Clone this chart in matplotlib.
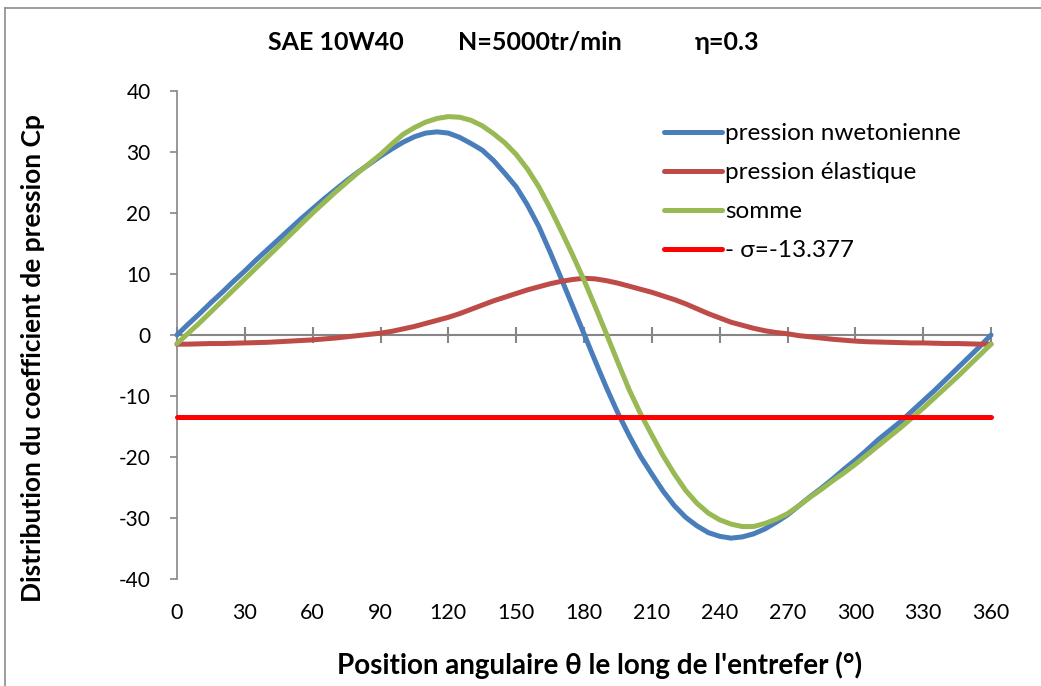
import matplotlib
matplotlib.use("Agg")
import matplotlib.pyplot as plt
from matplotlib.lines import Line2D

plt.rcParams['font.family'] = ['Lato', 'DejaVu Sans']

# ---- data (every 5 degrees) ----
theta = list(range(0, 361, 5))
p_newton = [0.0, 1.8, 3.5, 5.3, 7.0, 8.8, 10.5, 12.3, 14.0, 15.7, 17.4, 19.1, 20.7, 22.3, 23.8,
            25.3, 26.7, 28.0, 29.3, 30.5, 31.6, 32.5, 33.1, 33.3, 33.1, 32.4, 31.4, 30.3, 28.6,
            26.5, 24.3, 21.3, 17.8, 13.6, 9.2, 4.7, 0.2, -4.3, -8.7, -12.8, -16.5, -19.9, -22.8,
            -25.6, -28.0, -29.9, -31.3, -32.4, -33.0, -33.3, -33.1, -32.6, -31.8, -30.7, -29.5,
            -28.0, -26.5, -25.1, -23.6, -22.0, -20.5, -18.9, -17.2, -15.7, -14.2, -12.5, -10.8,
            -9.1, -7.3, -5.5, -3.7, -1.9, 0.0]
p_elast = [-1.5, -1.5, -1.45, -1.4, -1.4, -1.35, -1.3, -1.25, -1.2, -1.1, -1.0, -0.9, -0.8, -0.65,
           -0.5, -0.3, -0.1, 0.1, 0.3, 0.6, 1.0, 1.4, 1.9, 2.4, 2.9, 3.5, 4.2, 4.9, 5.6, 6.2, 6.8,
           7.4, 7.9, 8.4, 8.8, 9.1, 9.3, 9.2, 8.9, 8.5, 8.0, 7.5, 7.0, 6.4, 5.8, 5.1, 4.3, 3.5,
           2.8, 2.1, 1.6, 1.1, 0.7, 0.4, 0.2, -0.1, -0.3, -0.5, -0.7, -0.85, -1.0, -1.1, -1.15,
           -1.2, -1.25, -1.3, -1.3, -1.35, -1.4, -1.4, -1.45, -1.5, -1.5]
p_somme = [-1.4, 0.3, 2.0, 3.8, 5.6, 7.4, 9.2, 11.0, 12.8, 14.6, 16.4, 18.2, 20.0, 21.7, 23.4,
           25.0, 26.6, 28.1, 29.6, 31.3, 32.9, 34.0, 34.9, 35.5, 35.8, 35.7, 35.2, 34.3, 33.0,
           31.5, 29.6, 27.2, 24.3, 20.8, 17.0, 13.1, 9.0, 4.6, 0.1, -4.5, -9.0, -12.9, -16.4,
           -19.8, -22.8, -25.5, -27.6, -29.2, -30.3, -31.0, -31.4, -31.4, -30.9, -30.2, -29.3,
           -28.0, -26.6, -25.3, -23.9, -22.6, -21.2, -19.7, -18.2, -16.7, -15.2, -13.6, -12.0,
           -10.3, -8.6, -6.9, -5.1, -3.3, -1.5]
sigma = -13.377
sigma_x = [0, 360]

x_ticks = list(range(0, 361, 30))
y_ticks = list(range(-40, 41, 10))

labels = ["pression nwetonienne", "pression élastique", "somme", "- σ=-13.377"]
colors = ["#4A7EBB", "#BE4B48", "#98B954", "#FF0000"]

W, H = 1041, 686
fig = plt.figure(figsize=(W / 100, H / 100), dpi=100)
ax = fig.add_axes([177 / W, 1 - 579 / H, (991 - 177) / W, (579 - 91) / H])

lw = 3.6
kw = dict(lw=lw, solid_capstyle='round', solid_joinstyle='round', clip_on=False, zorder=3)
ax.plot(theta, p_newton, color=colors[0], label=labels[0], **kw)
ax.plot(theta, p_elast, color=colors[1], label=labels[1], **kw)
ax.plot(theta, p_somme, color=colors[2], label=labels[2], **kw)
ax.plot(sigma_x, [sigma, sigma], color=colors[3], label=labels[3], **kw)

ax.set_xlim(0, 360)
ax.set_ylim(-40, 40)

gray = "#868686"
for s in ['top', 'right', 'bottom']:
    ax.spines[s].set_visible(False)
ax.spines['left'].set_color(gray)
ax.spines['left'].set_linewidth(1.2)

ax.set_yticks(y_ticks)
ax.set_yticklabels([str(v) for v in y_ticks])
ax.tick_params(axis='y', direction='out', length=5, width=1.2, color=gray, pad=14, labelsize=15)
ax.set_xticks(x_ticks)
ax.set_xticklabels([str(v) for v in x_ticks])
ax.tick_params(axis='x', length=0, pad=17, labelsize=15.5)

# zero axis with crossing ticks
sec = ax.secondary_xaxis(0.5)
sec.set_xticks(x_ticks)
sec.set_xticklabels([])
for s in ['top', 'bottom']:
    sec.spines[s].set_color(gray)
    sec.spines[s].set_linewidth(1.5)
sec.tick_params(direction='inout', length=12, width=1.5, color=gray)

ax.set_xlabel("Position angulaire θ le long de l'entrefer (°)", fontsize=20, fontweight='bold', va='center')
ax.xaxis.set_label_coords((600 - 177) / 814, (579 - 665) / 488)
ax.set_ylabel("Distribution du coefficient de pression Cp", fontsize=19, fontweight='bold', va='center')
ax.yaxis.set_label_coords((33 - 177) / 814, (579 - 358) / 488)

# title parts
for txt, xp in [("SAE 10W40", 268), ("N=5000tr/min", 458), ("η=0.3", 695)]:
    fig.text(xp / W, 1 - 42 / H, txt, fontsize=18, fontweight='bold', ha='left', va='center')

leg = ax.legend(loc='upper left', bbox_to_anchor=(664 / W, 1 - 123 / H), bbox_transform=fig.transFigure,
                frameon=False, fontsize=17.5, handlelength=2.4, handletextpad=0.12, labelspacing=0.74,
                borderpad=0, borderaxespad=0)
for h in leg.get_lines():
    h.set_linewidth(lw)
    h.set_solid_capstyle('round')

# chart border
fig.add_artist(Line2D([4.5 / W, 4.5 / W], [0, 1 - 7.5 / H], transform=fig.transFigure, color="#8C8C8C", lw=1.2))
fig.add_artist(Line2D([4.5 / W, 1], [1 - 7.5 / H, 1 - 7.5 / H], transform=fig.transFigure, color="#8C8C8C", lw=1.2))

fig.savefig("out.png", dpi=100)
